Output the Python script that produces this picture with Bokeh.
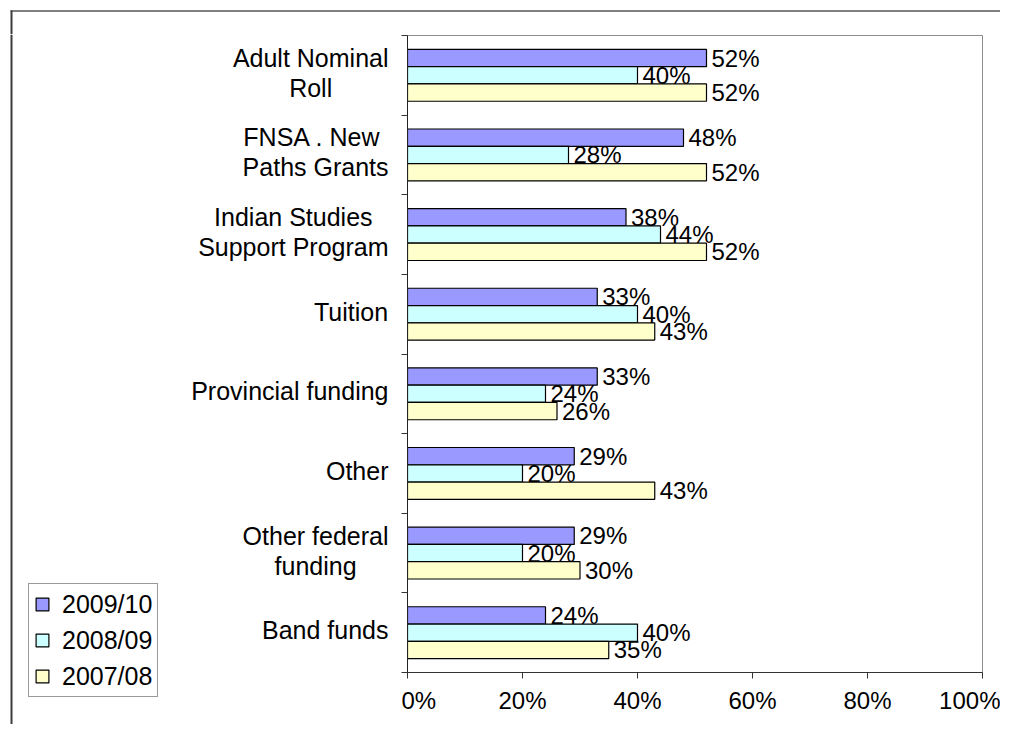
from bokeh.plotting import figure
from bokeh.layouts import row, column
from bokeh.models import (Range1d, FixedTicker, Legend, LegendItem,
                          ColumnDataSource, LabelSet)
from bokeh.core.properties import value
from bokeh.embed import file_html
from bokeh.resources import INLINE

# ---- data (top to bottom as shown) ----
category_lines = [
    ["Adult Nominal", "Roll"],
    ["FNSA .  New", "Paths Grants"],
    ["Indian Studies", "Support Program"],
    ["Tuition"],
    ["Provincial funding"],
    ["Other"],
    ["Other federal", "funding"],
    ["Band funds"],
]
series_names = ["2009/10", "2008/09", "2007/08"]
s2009_10 = [52, 48, 38, 33, 33, 29, 29, 24]
s2008_09 = [40, 28, 44, 40, 24, 20, 20, 40]
s2007_08 = [52, 52, 52, 43, 26, 43, 30, 35]
x_ticks = [0, 20, 40, 60, 80, 100]
x_tick_labels = ["0%", "20%", "40%", "60%", "80%", "100%"]

colors = ["#9999FF", "#CCFFFF", "#FFFFCC"]
FONT = "Liberation Sans"

# ---- layout constants (pixels) ----
TOTAL_W, TOP_H, TOP_PAD = 1000, 34, 1
FRAME_W, FRAME_H = 575, 637
BOTTOM_B = 52
AXIS_W = 6
LEFT_W = 407 - AXIS_W
MAIN_W = TOTAL_W - LEFT_W
ROW_H = TOP_PAD + FRAME_H + BOTTOM_B

n = len(category_lines)
bw = 0.217
ppu = FRAME_H / n
centers = [n - 0.5 - i for i in range(n)]
offsets = [bw, 0.0, -bw]
series = [s2009_10, s2008_09, s2007_08]

# ---------------- main chart ----------------
p = figure(width=MAIN_W, height=ROW_H, output_backend="svg",
           toolbar_location=None,
           x_range=Range1d(0, 100), y_range=Range1d(0, n),
           min_border_left=0, min_border_right=MAIN_W - AXIS_W - FRAME_W,
           min_border_top=TOP_PAD, min_border_bottom=BOTTOM_B)
p.frame_align = False
p.background_fill_color = "white"
p.border_fill_color = "white"
p.outline_line_color = "#8c8c8c"
p.outline_line_width = 1
p.xgrid.visible = False
p.ygrid.visible = False

for vals, off, col in zip(series, offsets, colors):
    src = ColumnDataSource(dict(
        y=[c + off for c in centers], v=vals,
        t=["%d%%" % round(v) for v in vals]))
    p.hbar(y="y", left=0, right="v", height=bw, source=src,
           fill_color=col, line_color="black", line_width=1.2)
    p.add_layout(LabelSet(x="v", y="y", text="t", source=src, x_offset=5,
                          text_baseline="middle", text_align="left",
                          text_font=value(FONT), text_font_size="24px",
                          text_color="black"))

p.xaxis.ticker = FixedTicker(ticks=x_ticks)
p.xaxis.major_label_overrides = {t: l for t, l in zip(x_ticks, x_tick_labels)}
p.xaxis.major_label_text_font = FONT
p.xaxis.major_label_text_font_size = "24px"
p.xaxis.major_label_text_color = "black"
p.xaxis.major_label_standoff = 8
p.xaxis.major_tick_in = 0
p.xaxis.major_tick_out = 6
p.xaxis.minor_tick_line_color = None
p.xaxis.axis_line_color = "#333333"
p.xaxis.major_tick_line_color = "#333333"

p.yaxis.ticker = FixedTicker(ticks=list(range(n + 1)))
p.yaxis.major_label_text_font_size = "0px"
p.yaxis.major_label_standoff = 0
p.yaxis.major_tick_in = 0
p.yaxis.major_tick_out = AXIS_W
p.yaxis.minor_tick_line_color = None
p.yaxis.axis_line_color = "#222222"
p.yaxis.major_tick_line_color = "#333333"

# ---------------- left panel: category labels + legend ----------------
W = {" ": .278, ".": .278, "A": .667, "B": .667, "F": .611, "G": .778,
     "I": .278, "N": .722, "O": .778, "P": .667, "R": .722, "S": .667,
     "T": .611, "a": .556, "c": .5, "d": .556, "e": .556, "f": .278,
     "g": .556, "h": .556, "i": .222, "l": .222, "m": .833, "n": .556,
     "o": .556, "p": .556, "r": .333, "s": .5, "t": .278, "u": .556,
     "v": .5, "w": .722, "y": .5}
CAT_SIZE = 25
LABEL_RIGHT = 388
LINE_GAP = 30 / ppu
BASELINE_NUDGE = 2.5 / ppu


def text_w(s):
    return sum(W.get(ch, .556) for ch in s) * CAT_SIZE


lx, ly, lt = [], [], []
for c, lines in zip(centers, category_lines):
    maxw = max(text_w(s) for s in lines)
    k = len(lines)
    for j, s in enumerate(lines):
        lx.append(LABEL_RIGHT - maxw / 2)
        ly.append(c + ((k - 1) / 2 - j) * LINE_GAP + BASELINE_NUDGE)
        lt.append(s)

left = figure(width=LEFT_W, height=ROW_H, output_backend="svg",
              toolbar_location=None, x_axis_type=None, y_axis_type=None,
              x_range=Range1d(0, LEFT_W),
              y_range=Range1d(-BOTTOM_B / ppu, n + TOP_PAD / ppu),
              min_border=0)
left.frame_align = False
left.outline_line_color = None
left.xgrid.visible = False
left.ygrid.visible = False
left.background_fill_color = "white"
left.border_fill_color = "white"
left.text(x=lx, y=ly, text=lt, text_align="center", text_baseline="middle",
          text_font=value(FONT), text_font_size="%dpx" % CAT_SIZE,
          text_color="black")
# chart frame left edge
left.segment(x0=[11], y0=[-BOTTOM_B / ppu], x1=[11], y1=[n + TOP_PAD / ppu],
             line_color="#3c3c3c", line_width=2)

# legend swatches (renderers kept outside the visible range)
dummies = [left.hbar(y=[-1000], left=[0], right=[1], height=0.2,
                     fill_color=col, line_color="black", line_width=1.2)
           for col in colors]
legend = Legend(items=[LegendItem(label=nm, renderers=[r])
                       for nm, r in zip(series_names, dummies)],
                location=(28, TOP_H + ROW_H - 697), orientation="vertical",
                border_line_color="#333333", border_line_width=1,
                background_fill_color="white", background_fill_alpha=1,
                label_text_font=FONT, label_text_font_size="25px",
                label_text_color="black",
                glyph_width=16, glyph_height=16, label_height=30,
                spacing=6, padding=5, margin=0, label_standoff=12)
left.add_layout(legend)

# ---------------- top strip: chart frame top edge ----------------
top = figure(width=TOTAL_W, height=TOP_H, output_backend="svg",
             toolbar_location=None, x_axis_type=None, y_axis_type=None,
             x_range=Range1d(0, TOTAL_W), y_range=Range1d(0, TOP_H),
             min_border=0)
top.frame_align = False
top.outline_line_color = None
top.xgrid.visible = False
top.ygrid.visible = False
top.background_fill_color = "white"
top.border_fill_color = "white"
top.segment(x0=[10], y0=[TOP_H - 10.5], x1=[TOTAL_W], y1=[TOP_H - 10.5],
            line_color="black", line_width=1)
top.segment(x0=[11], y0=[0], x1=[11], y1=[TOP_H - 10],
            line_color="#3c3c3c", line_width=2)

layout = column(top, row(left, p, spacing=0), spacing=0)
open("out.html", "w").write(file_html(layout, INLINE))
